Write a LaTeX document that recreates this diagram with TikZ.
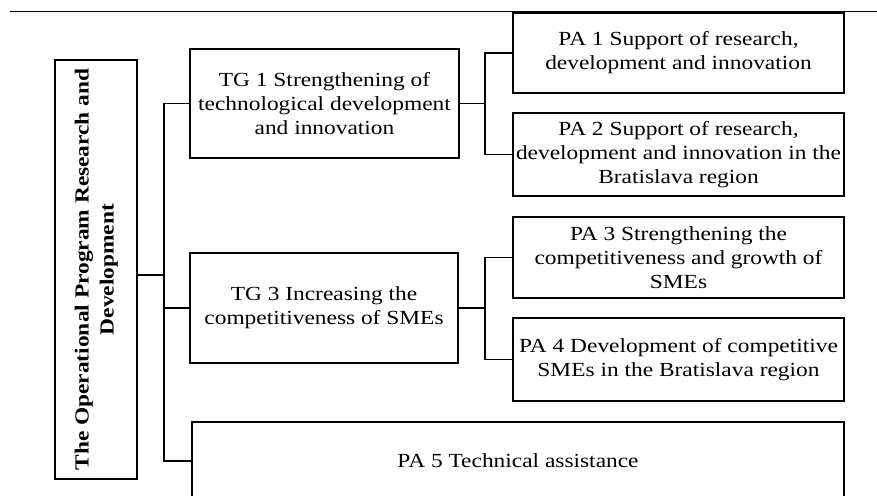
\documentclass[tikz,border=0pt]{standalone}
\usepackage{fontspec}
\setmainfont{Liberation Serif}[FakeStretch=1.17]
\usepackage{graphicx}
\begin{document}
\begin{tikzpicture}[x=1pt,y=1pt,
  box/.style={draw, line width=1.2pt, inner sep=0pt, align=center,
    font=\fontsize{20}{24}\selectfont},
  conn/.style={line width=1.2pt}]
\clip (0,0) rectangle (877,495);
\fill[white] (0,0) rectangle (877,495);
% top rule
\coordinate (r1) at (10,483.5);
\coordinate (r2) at (877,483.5);
\draw[line width=1pt] (r1) -- (r2);
% main box
\node[box, minimum width=82pt, minimum height=419pt] (main) at (96,225.5)
  {\rotatebox{90}{\fontsize{20}{25}\selectfont\bfseries
   \begin{tabular}{@{}c@{}}The Operational Program Research and\\ Development\end{tabular}}};
% TG nodes
\node[box, minimum width=269pt, minimum height=109pt] (tg1) at (324.5,391.5)
  {TG 1 Strengthening of\\ technological development\\ and innovation};
\node[box, minimum width=268pt, minimum height=110pt] (tg3) at (324,187)
  {TG 3 Increasing the\\ competitiveness of SMEs};
% PA nodes
\node[box, minimum width=331pt, minimum height=80pt] (pa1) at (678.5,442)
  {PA 1 Support of research,\\ development and innovation};
\node[box, minimum width=331pt, minimum height=83pt] (pa2) at (678.5,340.5)
  {PA 2 Support of research,\\ development and innovation in the\\ Bratislava region};
\node[box, minimum width=331pt, minimum height=81pt] (pa3) at (678.5,237.5)
  {PA 3 Strengthening the\\ competitiveness and growth of\\ SMEs};
\node[box, minimum width=331pt, minimum height=83pt] (pa4) at (678.5,135.5)
  {PA 4 Development of competitive\\ SMEs in the Bratislava region};
\node[box, minimum width=652pt, minimum height=78pt] (pa5) at (518,34)
  {PA 5 Technical assistance};
% trunk
\coordinate (t) at (164,220);
\draw[conn] ([yshift=-5.5pt]main.east) -- (t);
\draw[conn] (t) |- (tg1.west);
\draw[conn] (t) |- (tg3.west);
\draw[conn] (t) |- (pa5.west);
% bracket 1
\coordinate (b1) at (485,391.5);
\draw[conn] (tg1.east) -- (b1);
\draw[conn] (b1) |- (pa1.west);
\draw[conn] (b1) |- (pa2.west);
% bracket 2
\coordinate (b2) at (485,187);
\draw[conn] (tg3.east) -- (b2);
\draw[conn] (b2) |- (pa3.west);
\draw[conn] (b2) |- (pa4.west);
\end{tikzpicture}
\end{document}
